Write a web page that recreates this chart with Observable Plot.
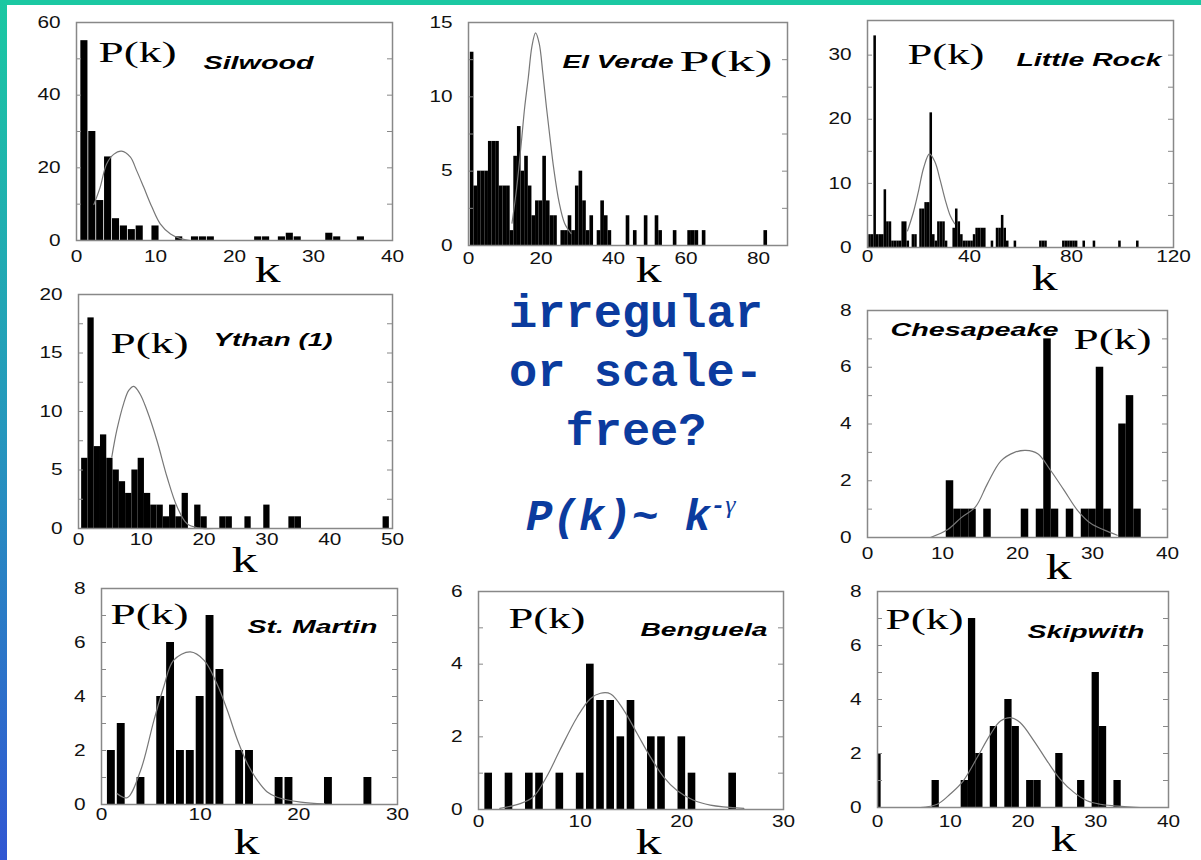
<!DOCTYPE html>
<html><head><meta charset="utf-8">
<script src="https://cdn.jsdelivr.net/npm/d3@7"></script>
<script src="https://cdn.jsdelivr.net/npm/@observablehq/plot@0.6"></script>
<style>
html,body{margin:0;padding:0;background:#fff;}
#page{position:relative;width:1201px;height:860px;overflow:hidden;background:#fff;}
#topbar{position:absolute;left:0;top:0;width:1201px;height:5px;background:#1bc8a2;}
#leftbar{position:absolute;left:0;top:0;width:7px;height:860px;background:linear-gradient(#1bc8a2,#2597bd 50%,#3156d2);}
</style></head>
<body><div id="page"><div id="topbar"></div><div id="leftbar"></div></div>
<script>
// ---------- data ----------
const silwoodK = [1,2,3,4,5,6,7,8,10,13,15,16,17,23,24,26,27,28,32,33,36];
const silwoodP = [55,30,11,23,6,4,3,4,4,1,1,1,1,1,1,1,2,1,2,1,1];
const silwoodFitK = [2.2,3.0,3.8,4.7,5.7,6.8,7.6,8.5,9.55,10.6,11.9,13.2,14.4];
const silwoodFitP = [9.9,14.7,21,23.7,24.6,23,19.3,14.7,9.2,4.6,1.8,0.5,0];
const silwoodXTicks = [0,10,20,30,40];
const silwoodYTicks = [0,20,40,60];
const silwoodYMinor = [10,30,50];

const elVerdeK = [1,2,3,4,5,6,7,8,9,10,11,12,13,14,15,16,17,18,19,20,21,22,23,24,26,27,28,29,30,31,32,33,34,36,37,38,39,44,46,49,52,53,57,61,62,63,65,82];
const elVerdeP = [13,4,5,5,5,7,7,7,4,4,4,1,6,8,5,6,4,2,3,3,6,3,2,2,1,1,2,1,4,5,3,1,2,1,3,2,1,2,1,2,2,1,1,1,1,1,1,1];
const elVerdeFitK = [12.0,13.3,14.6,15.5,16.5,17.5,18.5,19.5,20.5,21.5,22.5,23.5,25,26.5,28.3];
const elVerdeFitP = [1.5,3.9,7,9.3,11.3,13.4,14.3,13.6,11.6,9.3,7.2,5.2,2.9,1.5,0.8];
const elVerdeXTicks = [0,20,40,60,80];
const elVerdeYTicks = [0,5,10,15];
const elVerdeYMinor = [2.5,7.5,12.5];

const littleRockK = [1,2,3,4,5,6,7,8,9,10,11,12,13,14,15,16,18,19,21,22,23,24,25,26,27,28,29,30,31,34,35,36,37,38,39,40,41,42,43,44,45,46,49,51,52,53,54,55,58,68,69,70,77,78,79,80,81,82,85,89,99,106];
const littleRockP = [2,2,33,2,2,2,9,4,4,1,1,1,1,4,4,1,2,2,6,6,7,7,21,2,1,4,4,4,1,3,6,4,2,1,1,1,1,2,3,3,3,3,1,3,3,5,3,1,1,1,1,1,1,1,1,1,1,1,1,1,1,1];
const littleRockFitK = [15.7,18,20,22,24.3,26.5,28.5,30.5,32.5,34.2];
const littleRockFitP = [2.6,5.5,8.8,12.4,14.6,13.3,10.5,7.4,4.9,3.7];
const littleRockXTicks = [0,40,80,120];
const littleRockYTicks = [0,10,20,30];
const littleRockYMinor = [5,15,25];

const ythanK = [1,2,3,4,5,6,7,8,9,10,11,12,13,14,15,16,17,19,20,23,24,27,30,34,35,49];
const ythanP = [6,18,7,8,6,5,4,3,5,6,3,2,2,1,2,1,3,2,1,1,1,1,2,1,1,1];
const ythanFitK = [5.3,6.1,7.2,8.0,8.8,9.8,10.9,12.5,14.1,15.7,17.3,19,21.6];
const ythanFitP = [6.1,8.4,10.7,11.8,12.15,11.5,10.1,7.5,4.4,1.85,0.4,0.05,0];
const ythanXTicks = [0,10,20,30,40,50];
const ythanYTicks = [0,5,10,15,20];
const ythanYMinor = [2.5,7.5,12.5,17.5];

const chesapeakeK = [11,12,13,14,16,21,23,24,25,27,29,30,31,32,34,35,36];
const chesapeakeP = [2,1,1,1,1,1,1,7,1,1,1,1,6,1,4,5,1];
const chesapeakeFitK = [8.4,10.7,12.5,14.4,16,17.8,19.6,21.1,22.7,24.4,26.2,28,29.8,31.6,33.3];
const chesapeakeFitP = [0,0.28,0.7,1.08,1.9,2.7,3.0,3.07,2.95,2.37,1.67,0.96,0.49,0.26,0.08];
const chesapeakeXTicks = [0,10,20,30,40];
const chesapeakeYTicks = [0,2,4,6,8];
const chesapeakeYMinor = [1,3,5,7];

const stMartinK = [1,2,4,6,7,8,9,10,11,12,14,15,18,19,23,27];
const stMartinP = [2,3,1,4,6,2,2,4,7,5,2,2,1,1,1,1];
const stMartinFitK = [1.6,2.6,3.96,5.3,6.3,7.3,9.0,10.4,11.7,12.75,13.8,14.8,15.8,16.8,17.8,20.2,22.6];
const stMartinFitP = [0.4,0.25,1.26,3.1,4.35,5.34,5.65,5.34,4.47,3.49,2.37,1.5,0.89,0.46,0.27,0.09,0.02];
const stMartinXTicks = [0,10,20,30];
const stMartinYTicks = [0,2,4,6,8];
const stMartinYMinor = [1,3,5,7];

const benguelaK = [1,3,5,6,8,10,11,12,13,14,15,17,18,20,21,25];
const benguelaP = [1,1,1,1,1,1,4,3,3,2,3,2,2,2,1,1];
const benguelaFitK = [2.1,4.1,5.4,6.7,8.0,9.7,11,12,13,14.3,15.6,16.9,18.2,19.5,21.1,22.8,26.1];
const benguelaFitP = [0.03,0.16,0.35,0.9,1.63,2.54,3.05,3.2,3.18,2.73,2.09,1.45,0.9,0.53,0.26,0.12,0.03];
const benguelaXTicks = [0,10,20,30];
const benguelaYTicks = [0,2,4,6];
const benguelaYMinor = [1,3,5];

const skipwithK = [0,8,12,13,14,16,18,19,21,22,25,28,30,31,33];
const skipwithP = [2,1,1,7,2,3,4,3,1,1,2,1,5,3,1];
const skipwithFitK = [5.9,8.2,10,11.8,13.7,15.5,16.9,18.3,19.6,21.5,23.3,25.1,27,28.8,30.6,32.5,36.1];
const skipwithFitP = [0,0.12,0.5,0.99,1.85,2.7,3.2,3.33,3.15,2.47,1.73,1.05,0.56,0.25,0.12,0.06,0];
const skipwithXTicks = [0,10,20,30,40];
const skipwithYTicks = [0,2,4,6,8];
const skipwithYMinor = [1,3,5,7];

const centerLines = ["irregular", "or scale-", "free?"];
const formulaMain = "P(k)~ k";
const formulaSupMinus = "-";
const formulaSupGamma = "\u03b3";

// ---------- layout / style ----------
const panels = [
 {name:"Silwood", k:silwoodK, p:silwoodP, fk:silwoodFitK, fp:silwoodFitP, xt:silwoodXTicks, yt:silwoodYTicks, ym:silwoodYMinor, xd:[0,40], yd:[0,60], frame:[76,22,392,240], barW:0.9, pk:[98,61,78], nm:[203,68,110], kl:[267,281], xPad:10},
 {name:"El Verde", k:elVerdeK, p:elVerdeP, fk:elVerdeFitK, fp:elVerdeFitP, xt:elVerdeXTicks, yt:elVerdeYTicks, ym:elVerdeYMinor, xd:[0,88], yd:[0,15], frame:[468,22,787,245], barW:1.0, pk:[679,70,93], nm:[562,67,111], kl:[648,281], xPad:7},
 {name:"Little Rock", k:littleRockK, p:littleRockP, fk:littleRockFitK, fp:littleRockFitP, xt:littleRockXTicks, yt:littleRockYTicks, ym:littleRockYMinor, xd:[0,120], yd:[0,35.4], frame:[867,20,1173,247], barW:1.0, pk:[907,63,77], nm:[1016,65,145], kl:[1044,289], xPad:3},
 {name:"Ythan (1)", k:ythanK, p:ythanP, fk:ythanFitK, fp:ythanFitP, xt:ythanXTicks, yt:ythanYTicks, ym:ythanYMinor, xd:[0,50], yd:[0,20], frame:[78,294,392,528], barW:1.0, pk:[110,352,78], nm:[213,345,119], kl:[244,571], xPad:5},
 {name:"Chesapeake", k:chesapeakeK, p:chesapeakeP, fk:chesapeakeFitK, fp:chesapeakeFitP, xt:chesapeakeXTicks, yt:chesapeakeYTicks, ym:chesapeakeYMinor, xd:[0,40], yd:[0,8], frame:[867,310,1167,537], barW:1.0, pk:[1073,348,78], nm:[890,335,168], kl:[1058,578], xPad:10},
 {name:"St. Martin", k:stMartinK, p:stMartinP, fk:stMartinFitK, fp:stMartinFitP, xt:stMartinXTicks, yt:stMartinYTicks, ym:stMartinYMinor, xd:[0,30], yd:[0,8], frame:[101,588,397,804], barW:0.8, pk:[110,623,78], nm:[247,632,130], kl:[246,853], xPad:4},
 {name:"Benguela", k:benguelaK, p:benguelaP, fk:benguelaFitK, fp:benguelaFitP, xt:benguelaXTicks, yt:benguelaYTicks, ym:benguelaYMinor, xd:[0,30], yd:[0,6], frame:[478,591,783,809], barW:0.75, pk:[508,627,77], nm:[640,635,127], kl:[648,853], xPad:6},
 {name:"Skipwith", k:skipwithK, p:skipwithP, fk:skipwithFitK, fp:skipwithFitP, xt:skipwithXTicks, yt:skipwithYTicks, ym:skipwithYMinor, xd:[0,40], yd:[0,8], frame:[877,591,1168,807], barW:1.0, pk:[885,628,78], nm:[1027,637,117], kl:[1063,850], xPad:8}
];

const SANS = "'Liberation Sans', Arial, Helvetica, sans-serif";
const SERIF = "'Liberation Serif', 'Times New Roman', serif";
const page = document.getElementById("page");

function setLen(t, w) {
  t.setAttribute("textLength", (+w).toFixed(1));
  t.setAttribute("lengthAdjust", "spacingAndGlyphs");
}

for (const c of panels) {
  const [L, T, R, B] = c.frame;
  const mL = 70, mR = 20, mT = 20, mB = 60;
  const fw = R - L, fh = B - T;
  const allY = c.yt.concat(c.ym);
  const plot = Plot.plot({
    width: fw + mL + mR, height: fh + mT + mB,
    marginLeft: mL, marginRight: mR, marginTop: mT, marginBottom: mB,
    style: {background: "transparent", overflow: "visible", fontFamily: SANS},
    x: {domain: c.xd},
    y: {domain: c.yd},
    marks: [
      Plot.rect(c.k, {x1: d => d - c.barW / 2, x2: d => d + c.barW / 2, y1: 0, y2: c.p, fill: "#000", clip: true}),
      Plot.line(c.fk, {x: c.fk, y: c.fp, curve: "catmull-rom", stroke: "#777", strokeWidth: 1.2}),
      Plot.tickY(allY, {y: d => d, insetRight: fw - 5, stroke: "#888", strokeWidth: 1}),
      Plot.tickY(allY, {y: d => d, insetLeft: fw - 5, stroke: "#888", strokeWidth: 1}),
      Plot.frame({stroke: "#888", strokeWidth: 1.5}),
      Plot.axisY(c.yt, {tickSize: 0, tickPadding: 16, fontSize: 16, color: "#111", label: null}),
      Plot.axisX(c.xt, {tickSize: 0, tickPadding: c.xPad, fontSize: 16, color: "#111", label: null}),
      Plot.text(["P(k)"], {text: d => d, frameAnchor: "top-left", dx: c.pk[0] - L, dy: c.pk[1] - T, lineAnchor: "bottom", textAnchor: "start", fontSize: 29, fontFamily: SERIF, fill: "#000"}),
      Plot.text([c.name], {text: d => d, frameAnchor: "top-left", dx: c.nm[0] - L, dy: c.nm[1] - T, lineAnchor: "bottom", textAnchor: "start", fontSize: 18, fontWeight: "bold", fontStyle: "italic", fontFamily: SANS, fill: "#000"}),
      Plot.text(["k"], {text: d => d, frameAnchor: "bottom-left", dx: c.kl[0] - L, dy: c.kl[1] - B, lineAnchor: "bottom", textAnchor: "middle", fontSize: 36, fontFamily: SERIF, fill: "#000"})
    ]
  });
  plot.style.position = "absolute";
  plot.style.left = (L - mL) + "px";
  plot.style.top = (T - mT) + "px";
  page.appendChild(plot);
  // horizontal stretch of the texts, as in the (stretched) reference
  plot.querySelectorAll("text").forEach(t => {
    const g = t.closest("g");
    const al = g ? (g.getAttribute("aria-label") || "") : "";
    const s = t.textContent;
    if (al.indexOf("tick label") >= 0) {
      const len = t.getComputedTextLength();
      if (len > 0) setLen(t, len * 1.3);
    } else if (s === "P(k)") {
      setLen(t, c.pk[2]);
    } else if (s === c.name) {
      setLen(t, c.nm[2]);
    } else if (s === "k") {
      const len = t.getComputedTextLength();
      if (len > 0) setLen(t, len * 1.45);
    }
  });
}

// centre annotation
const MONO = "'Courier New', 'Liberation Mono', monospace";
const blue = "#0b3b9e";
const svg = d3.select(page).append("svg")
  .attr("width", 1201).attr("height", 860)
  .style("position", "absolute").style("left", "0px").style("top", "0px");
svg.selectAll("text.line").data(centerLines).join("text")
  .attr("class", "line")
  .attr("x", 636).attr("y", (d, i) => 327 + i * 59)
  .attr("text-anchor", "middle")
  .attr("font-family", MONO).attr("font-weight", "bold").attr("font-size", 47)
  .attr("fill", blue).text(d => d);
const f = svg.append("text")
  .attr("x", 526).attr("y", 530)
  .attr("font-family", MONO).attr("font-weight", "bold").attr("font-style", "italic")
  .attr("font-size", 44).attr("fill", blue);
f.append("tspan").text(formulaMain);
f.append("tspan").attr("dy", -17).attr("font-size", 24).text(formulaSupMinus);
f.append("tspan").attr("font-family", SERIF).attr("font-weight", "normal").attr("font-size", 26).text(formulaSupGamma);
</script>
</body></html>
